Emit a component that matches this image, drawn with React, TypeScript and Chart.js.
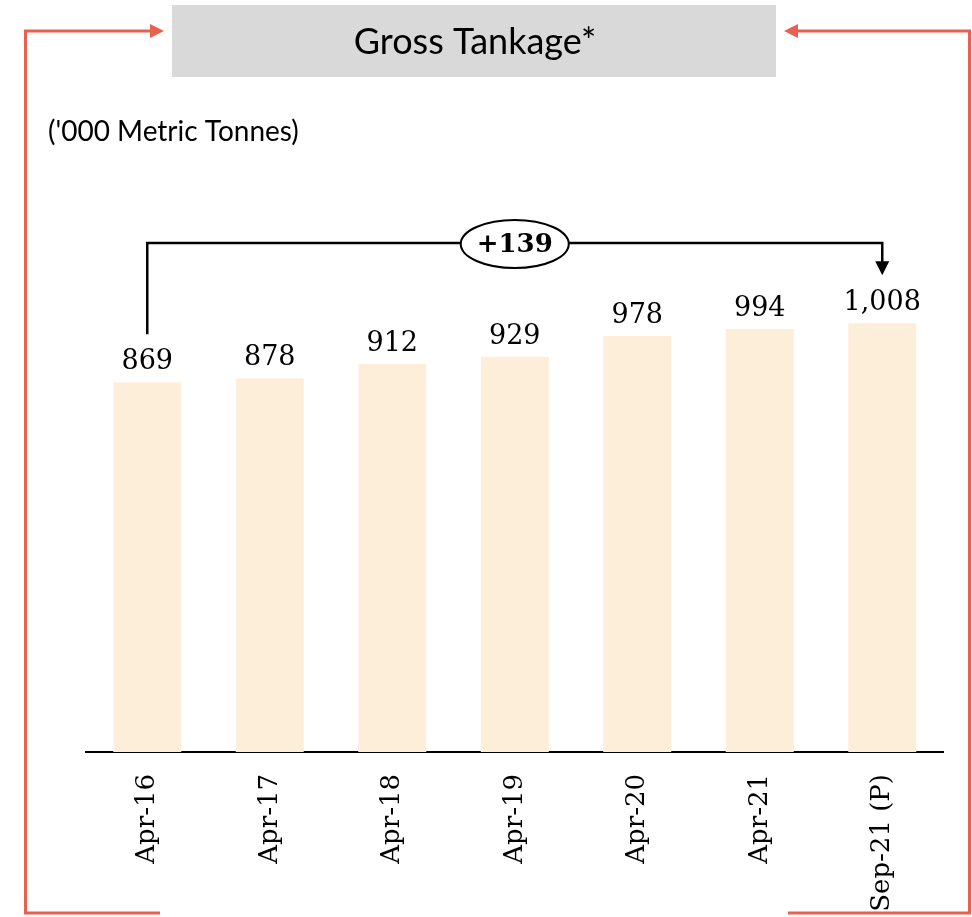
import React, { useEffect, useRef } from "react";
import { Chart, registerables } from "chart.js";

Chart.register(...registerables);

const categories = ["Apr-16", "Apr-17", "Apr-18", "Apr-19", "Apr-20", "Apr-21", "Sep-21 (P)"];
const tankage = [869, 878, 912, 929, 978, 994, 1008];
const valueLabels = ["869", "878", "912", "929", "978", "994", "1,008"];
const changeLabel = "+139";
const titleText = "Gross Tankage*";
const unitText = "('000 Metric Tonnes)";

const RED = "#E8604F";
const BAR = "#FDEEDA";
const SERIF = "'DejaVu Serif', serif";

function arrowHead(ctx: CanvasRenderingContext2D, tipX: number, tipY: number, dir: "left" | "right" | "down", len: number, half: number) {
  ctx.beginPath();
  if (dir === "right") {
    ctx.moveTo(tipX, tipY);
    ctx.lineTo(tipX - len, tipY - half);
    ctx.lineTo(tipX - len, tipY + half);
  } else if (dir === "left") {
    ctx.moveTo(tipX, tipY);
    ctx.lineTo(tipX + len, tipY - half);
    ctx.lineTo(tipX + len, tipY + half);
  } else {
    ctx.moveTo(tipX, tipY);
    ctx.lineTo(tipX - half, tipY - len);
    ctx.lineTo(tipX + half, tipY - len);
  }
  ctx.closePath();
  ctx.fill();
}

const decorPlugin = {
  id: "decor",
  beforeDraw(chart: any) {
    const ctx = chart.ctx as CanvasRenderingContext2D;
    ctx.save();
    // title box
    ctx.fillStyle = "#D9D9D9";
    ctx.fillRect(172, 5, 604, 72);
    ctx.fillStyle = "#000";
    ctx.font = "36px Lato, sans-serif";
    ctx.textAlign = "center";
    ctx.textBaseline = "middle";
    ctx.fillText(titleText, 475, 42);
    // unit label
    ctx.font = "28px Lato, sans-serif";
    ctx.textAlign = "left";
    ctx.fillText(unitText, 48, 132);
    // red bracket
    ctx.strokeStyle = RED;
    ctx.fillStyle = RED;
    ctx.lineWidth = 3;
    ctx.beginPath();
    ctx.moveTo(150, 31);
    ctx.lineTo(25.5, 31);
    ctx.lineTo(25.5, 913);
    ctx.lineTo(160, 913);
    ctx.stroke();
    arrowHead(ctx, 164, 31, "right", 14, 7);
    ctx.beginPath();
    ctx.moveTo(798, 31);
    ctx.lineTo(969.5, 31);
    ctx.lineTo(969.5, 913);
    ctx.lineTo(788, 913);
    ctx.stroke();
    arrowHead(ctx, 784, 31, "left", 14, 7);
    ctx.restore();
  },
  afterDatasetsDraw(chart: any) {
    const ctx = chart.ctx as CanvasRenderingContext2D;
    const meta = chart.getDatasetMeta(0);
    ctx.save();
    ctx.fillStyle = "#000";
    ctx.font = `27px ${SERIF}`;
    ctx.textAlign = "center";
    ctx.textBaseline = "alphabetic";
    meta.data.forEach((bar: any, i: number) => {
      ctx.fillText(valueLabels[i], bar.x, bar.y - 13);
    });
    // change bracket
    const first = meta.data[0];
    const last = meta.data[meta.data.length - 1];
    const lineY = 243;
    ctx.strokeStyle = "#000";
    ctx.fillStyle = "#000";
    ctx.lineWidth = 2.5;
    ctx.beginPath();
    ctx.moveTo(first.x, first.y - 48);
    ctx.lineTo(first.x, lineY);
    ctx.lineTo(last.x, lineY);
    ctx.lineTo(last.x, last.y - 60);
    ctx.stroke();
    arrowHead(ctx, last.x, last.y - 48, "down", 14, 7);
    const mid = meta.data[3];
    ctx.beginPath();
    ctx.ellipse(mid.x, lineY + 1, 54, 24, 0, 0, Math.PI * 2);
    ctx.fillStyle = "#fff";
    ctx.fill();
    ctx.lineWidth = 2;
    ctx.stroke();
    ctx.fillStyle = "#000";
    ctx.font = `bold 26px ${SERIF}`;
    ctx.textBaseline = "middle";
    ctx.fillText(changeLabel, mid.x, lineY + 2);
    ctx.restore();
  },
};

export default function App() {
  const ref = useRef<HTMLCanvasElement | null>(null);
  useEffect(() => {
    if (!ref.current) return;
    const chart = new Chart(ref.current, {
      type: "bar",
      data: {
        labels: categories,
        datasets: [
          {
            data: tankage,
            backgroundColor: BAR,
            borderWidth: 0,
            barPercentage: 0.555,
            categoryPercentage: 1,
          },
        ],
      },
      options: {
        animation: false,
        responsive: true,
        maintainAspectRatio: false,
        layout: { padding: { left: 86, right: 28.5, top: 284, bottom: 0 } },
        plugins: { legend: { display: false }, tooltip: { enabled: false }, title: { display: false } },
        scales: {
          y: { display: false, min: 0, max: 1100 },
          x: {
            grid: { display: false },
            border: { display: true, color: "#000", width: 2 },
            afterFit: (scale: any) => {
              scale.height = 165;
            },
            ticks: {
              autoSkip: false,
              minRotation: 90,
              maxRotation: 90,
              padding: 14,
              color: "#000",
              font: { family: SERIF, size: 26 },
            },
          },
        },
      },
      plugins: [decorPlugin],
    });
    return () => chart.destroy();
  }, []);
  return (
    <div style={{ position: "absolute", left: 0, top: 0, width: 972, height: 917, background: "#fff" }}>
      <canvas ref={ref} />
    </div>
  );
}
